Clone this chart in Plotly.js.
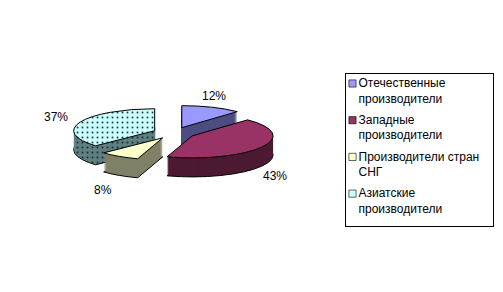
<!DOCTYPE html>
<html><head><meta charset="utf-8">
<script src="https://cdn.plot.ly/plotly-3.0.1.min.js"></script>
<style>html,body{margin:0;padding:0;background:#fff;overflow:hidden}</style>
</head><body>
<div id="chart" style="width:503px;height:292px"></div>
<script>
// ---- data ----
const categories = ['Отечественные<br>производители', 'Западные<br>производители', 'Производители стран<br>СНГ', 'Азиатские<br>производители'];
const values = [12, 43, 8, 37];
const topColors = ['#9999FF', '#993366', '#FFFFCC', '#CCFFFF'];
const sideColors = ['#4D4D80', '#4D1A33', '#808066', '#5F8080'];
const patternShapes = ['', '', '', '.'];
const pulls = [0.26, 0.26, 0.26, 0.26];

// ---- geometry / style ----
const W = 503, H = 292;
const CX = 174, CY = 133, RX = 81, RY = 22, DEPTH = 19;
const LABEL_RX = 127, LABEL_RY = 40, LABEL_DROP = 23;
const FONT = 'Liberation Sans, Arial, sans-serif';
const LEG_X = 345, LEG_Y = 73, LEG_W = 148, LEG_H = 153, LEG_PITCH = 36.7, LEG_FIRST = 10;

const total = values.reduce((a, b) => a + b, 0);
const percentLabels = values.map(v => Math.round(v / total * 100) + '%');

const traces = [];
for (let k = DEPTH; k >= 1; k--) {
  traces.push({
    type: 'pie', values: values, labels: categories, sort: false,
    direction: 'clockwise', rotation: 0, pull: pulls,
    textinfo: 'none', hoverinfo: 'skip', showlegend: false,
    marker: {colors: sideColors, line: {color: k === DEPTH ? '#000' : 'rgba(0,0,0,0)', width: k === DEPTH ? 1 : 0},
             pattern: {shape: patternShapes, fgcolor: 'rgb(20,40,' + (40 + k) + ')', bgcolor: sideColors, size: 5, solidity: 0.12}},
    domain: {x: [0, 0.6], y: [0, 1]}
  });
}
traces.push({
  type: 'pie', values: values, labels: categories, sort: false,
  direction: 'clockwise', rotation: 0, pull: pulls,
  textinfo: 'none', hoverinfo: 'skip', showlegend: true,
  marker: {colors: topColors, line: {color: '#000', width: 1},
           pattern: {shape: patternShapes, fgcolor: '#1a3333', bgcolor: topColors, size: 5, solidity: 0.12}},
  domain: {x: [0, 0.6], y: [0, 1]}
});

let cum = 0;
const annotations = values.map((v, i) => {
  const mid = (cum + v / 2) / total * 2 * Math.PI; cum += v;
  const dx = Math.sin(mid), dy = -Math.cos(mid);
  const x = CX + dx * LABEL_RX;
  const y = CY + dy * LABEL_RY + (dy > 0 ? LABEL_DROP : 0);
  return {text: percentLabels[i], x: x / W, y: 1 - y / H, xref: 'paper', yref: 'paper',
          showarrow: false, xanchor: 'center', yanchor: 'middle',
          font: {family: FONT, size: 12, color: '#000'}};
});

const layout = {
  width: W, height: H, margin: {l: 0, r: 0, t: 0, b: 0},
  paper_bgcolor: '#fff', plot_bgcolor: '#fff',
  showlegend: true,
  legend: {x: LEG_X / W, y: 1 - LEG_Y / H, xanchor: 'left', yanchor: 'top',
           bordercolor: '#000', borderwidth: 1, bgcolor: '#fff',
           font: {family: FONT, size: 12, color: '#000'}, traceorder: 'normal'},
  annotations: annotations
};

const gd = document.getElementById('chart');
Plotly.newPlot(gd, traces, layout, {staticPlot: true, displayModeBar: false}).then(() => {
  const groups = gd.querySelectorAll('.pielayer > g.trace');
  groups.forEach((g, i) => {
    const cd0 = gd.calcdata[i][0];
    const kx = RX / cd0.r, ky = RY / cd0.r;
    const isTop = i === groups.length - 1;
    const off = isTop ? 0 : (DEPTH - i);
    const old = g.getAttribute('transform') || '';
    g.setAttribute('transform', `translate(${CX},${CY + off}) scale(${kx},${ky}) translate(${-cd0.cx},${-cd0.cy}) ${old}`);
    g.querySelectorAll('path').forEach(p => {
      p.style.vectorEffect = 'non-scaling-stroke';
      const f = p.style.fill || p.getAttribute('fill') || '';
      const m = f.match(/#([^"')]+)/);
      if (m) {
        const pat = document.getElementById(m[1]);
        // keep the dot grid fixed in screen space for every layer
        if (pat) pat.setAttribute('patternTransform',
          `translate(${cd0.cx},${cd0.cy}) scale(${1 / kx},${1 / ky}) translate(${-CX},${-(CY + off)})`);
      }
    });
  });

  // legend tweaks
  const leg = gd.querySelector('.legend');
  leg.setAttribute('transform', `translate(${LEG_X},${LEG_Y})`);
  const bg = leg.querySelector('rect.bg');
  bg.setAttribute('width', LEG_W);
  bg.setAttribute('height', LEG_H);
  const L = bg.getBoundingClientRect();
  leg.querySelectorAll('g.traces').forEach((item, i) => {
    const txt = item.querySelector('text.legendtext');
    let tb = txt.getBoundingClientRect();
    const lineH = tb.height / Math.max(1, txt.querySelectorAll('tspan.line').length || 1);
    const curCenter = tb.top + lineH / 2;
    const wantCenter = L.top + LEG_FIRST + i * LEG_PITCH;
    const oldT = item.getAttribute('transform') || '';
    item.setAttribute('transform', `translate(0,${wantCenter - curCenter}) ${oldT}`);
    tb = txt.getBoundingClientRect();
    txt.setAttribute('transform', `translate(${(L.left + 13) - tb.left},0)`);
    const pts = item.querySelector('.legendpoints');
    const pb = pts.getBoundingClientRect();
    const ctm = pts.parentNode.getScreenCTM();
    const cx = pb.left + pb.width / 2 - ctm.e, cy = pb.top + pb.height / 2 - ctm.f;
    const tx = L.left + 7 - ctm.e, ty = wantCenter - ctm.f;
    const old = pts.getAttribute('transform') || '';
    pts.setAttribute('transform', `translate(${tx},${ty}) scale(0.6) translate(${-cx},${-cy}) ${old}`);
  });
});
</script>
</body></html>
